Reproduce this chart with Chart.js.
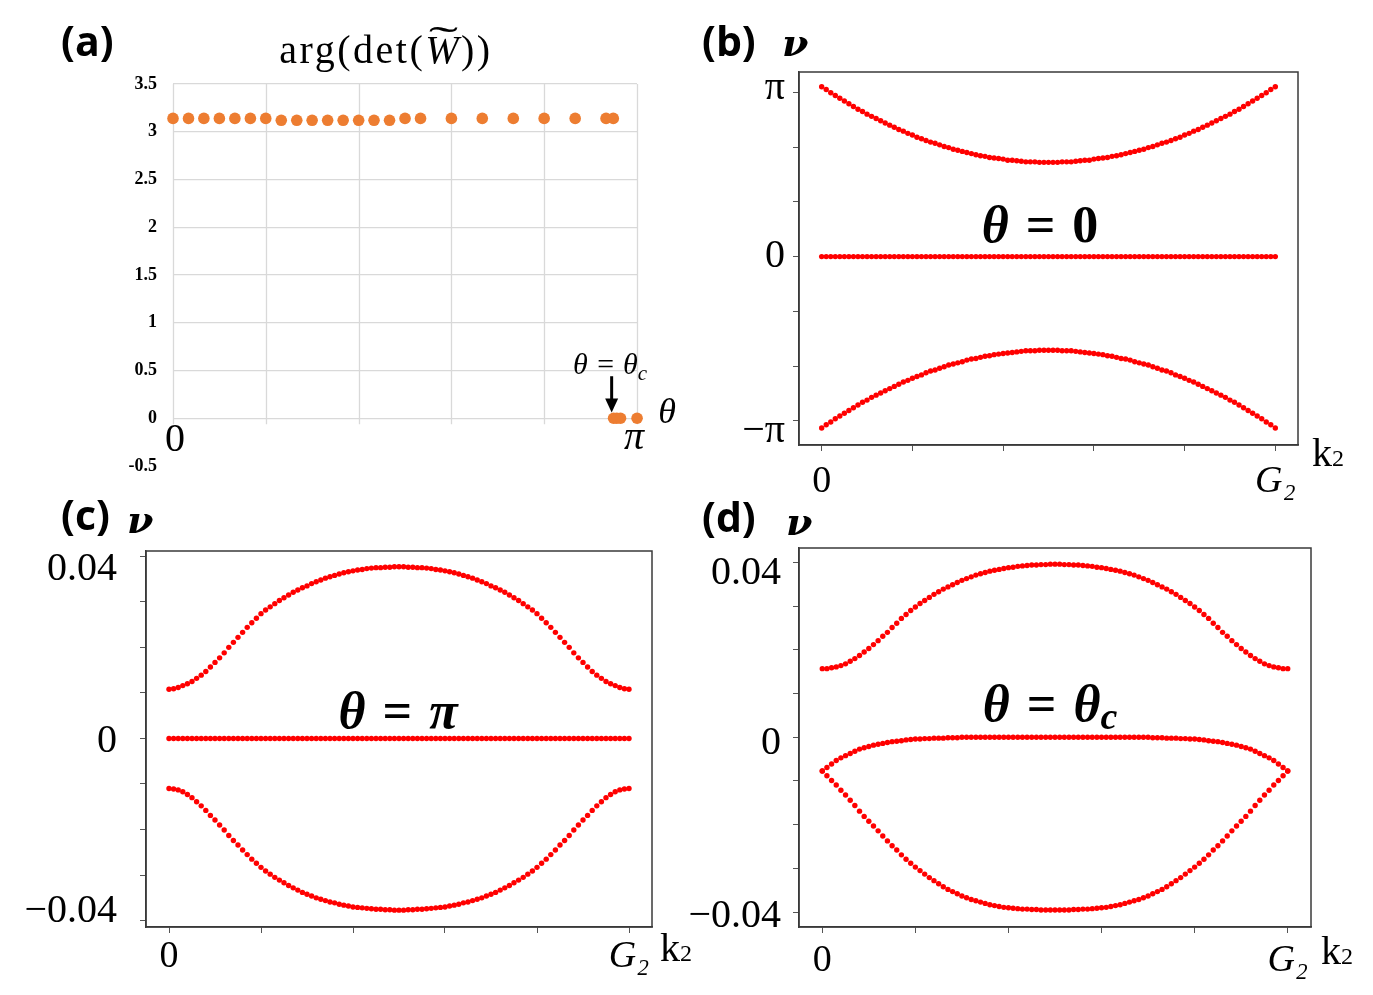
<!DOCTYPE html>
<html><head><meta charset="utf-8">
<script src="https://cdn.jsdelivr.net/npm/chart.js@4.4.1/dist/chart.umd.min.js"></script>
<style>
html,body{margin:0;padding:0;background:#fff;}
#wrap{position:relative;width:1373px;height:995px;overflow:hidden;background:#fff;}
canvas{position:absolute;}
.t{position:absolute;white-space:nowrap;line-height:1;color:#000;}
.lab{font-family:'Open Sans',sans-serif;font-weight:700;font-size:41px;}
.nu{font-family:'DejaVu Serif',serif;font-weight:700;font-style:italic;font-size:38px;}
.ser{font-family:'Liberation Serif',serif;}
.th{font-family:'Liberation Serif',serif;font-weight:700;font-size:52px;word-spacing:4px;transform:translateX(-50%);}
.ctr{transform:translateX(-50%);}
</style></head>
<body><div id="wrap">
<canvas id="cA" width="690" height="490" style="left:0;top:0"></canvas>
<canvas id="cB" width="683" height="440" style="left:690px;top:60px"></canvas>
<canvas id="cC" width="690" height="455" style="left:0;top:540px"></canvas>
<canvas id="cD" width="703" height="458" style="left:670px;top:537px"></canvas>

<div class="t lab" style="left:61px;top:20px">(a)</div>
<div class="t ser ctr" style="left:386px;top:30px;font-size:40px;letter-spacing:2.5px">arg(det(<span style="position:relative;display:inline-block;font-style:italic">W<span style="position:absolute;left:4px;right:-2px;top:-9px;text-align:center;font-style:normal;display:block;transform:scaleX(2.2)">˜</span></span>))</div>
<div class="t ser ctr" style="left:175px;top:418px;font-size:40px">0</div>
<div class="t ser ctr" style="left:634px;top:416px;font-size:40px;font-style:italic">π</div>
<div class="t ser ctr" style="left:667px;top:393px;font-size:36px;font-style:italic">θ</div>
<div class="t ser ctr" style="left:610px;top:349px;font-size:30px;font-style:italic">θ = θ<span style="font-size:21px;position:relative;top:6px">c</span></div>

<div class="t lab" style="left:702px;top:20px">(b)</div>
<div class="t nu" style="left:782px;top:24px">ν</div>
<div class="t th" style="left:1040px;top:199px"><i>θ</i> = 0</div>
<div class="t ser" style="left:1312px;top:433px;font-size:40px">k<span style="font-size:24px">2</span></div>

<div class="t lab" style="left:61px;top:494px">(c)</div>
<div class="t nu" style="left:127px;top:501px">ν</div>
<div class="t th" style="left:398px;top:685px"><i>θ</i> = <i>π</i></div>
<div class="t ser" style="left:660px;top:928px;font-size:40px">k<span style="font-size:24px">2</span></div>

<div class="t lab" style="left:702px;top:496px">(d)</div>
<div class="t nu" style="left:786px;top:503px">ν</div>
<div class="t th" style="left:1050px;top:678px"><i>θ</i> = <i>θ</i><span style="font-size:38px;position:relative;top:8px"><i>c</i></span></div>
<div class="t ser" style="left:1321px;top:931px;font-size:40px">k<span style="font-size:24px">2</span></div>
</div>

<script>
// ---------- Panel (a): arg(det(W~)) vs theta ----------
const THETA_A = [0,0.105,0.209,0.314,0.419,0.524,0.628,0.733,0.838,0.942,1.047,1.152,1.257,1.361,1.466,1.571,1.676,1.885,2.094,2.304,2.513,2.723,2.932,2.981,2.983,3.005,3.030,3.142];
const ARG_A   = [3.14,3.14,3.14,3.14,3.14,3.14,3.14,3.12,3.12,3.12,3.12,3.12,3.12,3.12,3.12,3.14,3.14,3.14,3.14,3.14,3.14,3.14,3.14,3.14,0,0,0,0];
const A_YTICKS = [-0.5,0,0.5,1,1.5,2,2.5,3,3.5];
const A_XGRID = [0,0.6283,1.2566,1.885,2.5133,3.1416];
const THETA_C = 2.97;
const ARROW_Y = [0.44, 0.06];

// ---------- Panels (b)-(d): nu vs k2 (k2 in units of G2) ----------
const K2 = Array.from({length:101},(_,i)=>i/100);
const K_TICKS = [0,0.2,0.4,0.6,0.8,1];

const B_UP = [3.10,3.05,2.99,2.94,2.89,2.84,2.79,2.74,2.69,2.65,2.60,2.56,2.52,2.48,2.44,2.40,2.36,2.32,2.29,2.25,2.22,2.18,2.15,2.12,2.09,2.07,2.04,2.01,1.99,1.96,1.94,1.92,1.90,1.88,1.86,1.84,1.83,1.81,1.80,1.79,1.78,1.76,1.76,1.75,1.74,1.73,1.73,1.73,1.72,1.72,1.72,
  1.72,1.72,1.73,1.73,1.73,1.74,1.75,1.76,1.76,1.78,1.79,1.80,1.81,1.83,1.84,1.86,1.88,1.90,1.92,1.94,1.96,1.99,2.01,2.04,2.07,2.09,2.12,2.15,2.18,2.22,2.25,2.29,2.32,2.36,2.40,2.44,2.48,2.52,2.56,2.60,2.65,2.69,2.74,2.79,2.84,2.89,2.94,2.99,3.05,3.10];
const B_MID = [0,0,0,0,0,0,0,0,0,0,0,0,0,0,0,0,0,0,0,0,0,0,0,0,0,0,0,0,0,0,0,0,0,0,0,0,0,0,0,0,0,0,0,0,0,0,0,0,0,0,0,
  0,0,0,0,0,0,0,0,0,0,0,0,0,0,0,0,0,0,0,0,0,0,0,0,0,0,0,0,0,0,0,0,0,0,0,0,0,0,0,0,0,0,0,0,0,0,0,0,0,0];
const B_LO = [-3.13,-3.07,-3.02,-2.96,-2.91,-2.86,-2.81,-2.76,-2.71,-2.66,-2.62,-2.57,-2.53,-2.49,-2.45,-2.41,-2.37,-2.33,-2.29,-2.26,-2.22,-2.19,-2.16,-2.12,-2.09,-2.07,-2.04,-2.01,-1.98,-1.96,-1.94,-1.92,-1.89,-1.87,-1.86,-1.84,-1.82,-1.81,-1.79,-1.78,-1.77,-1.76,-1.75,-1.74,-1.73,-1.72,-1.72,-1.72,-1.71,-1.71,-1.71,
  -1.71,-1.71,-1.72,-1.72,-1.72,-1.73,-1.74,-1.75,-1.76,-1.77,-1.78,-1.79,-1.81,-1.82,-1.84,-1.86,-1.87,-1.89,-1.92,-1.94,-1.96,-1.98,-2.01,-2.04,-2.07,-2.09,-2.12,-2.16,-2.19,-2.22,-2.26,-2.29,-2.33,-2.37,-2.41,-2.45,-2.49,-2.53,-2.57,-2.62,-2.66,-2.71,-2.76,-2.81,-2.86,-2.91,-2.96,-3.02,-3.07,-3.13];

const C_UP = [.0108,.0109,.0112,.0116,.0120,.0125,.0132,.0139,.0147,.0157,.0167,.0177,.0188,.0200,.0211,.0222,.0233,.0244,.0254,.0264,.0274,.0282,.0289,.0296,.0303,.0309,.0315,.0321,.0326,.0331,.0335,.0340,.0344,.0348,.0352,.0355,.0358,.0361,.0364,.0366,.0368,.0370,.0371,.0373,.0374,.0375,.0375,.0376,.0376,.0377,.0377,
  .0377,.0376,.0376,.0375,.0375,.0374,.0373,.0371,.0370,.0368,.0366,.0364,.0361,.0358,.0355,.0352,.0348,.0344,.0340,.0335,.0331,.0326,.0321,.0315,.0309,.0303,.0296,.0289,.0282,.0274,.0264,.0254,.0244,.0233,.0222,.0211,.0200,.0188,.0177,.0167,.0157,.0147,.0139,.0132,.0125,.0120,.0116,.0112,.0109,.0108];
const C_MID = B_MID;
const C_LO = [-.0110,-.0111,-.0113,-.0117,-.0123,-.0130,-.0139,-.0148,-.0158,-.0169,-.0179,-.0190,-.0201,-.0213,-.0224,-.0234,-.0245,-.0255,-.0265,-.0274,-.0283,-.0291,-.0298,-.0305,-.0311,-.0317,-.0323,-.0328,-.0333,-.0338,-.0342,-.0346,-.0350,-.0353,-.0356,-.0359,-.0361,-.0364,-.0366,-.0368,-.0370,-.0371,-.0372,-.0373,-.0374,-.0375,-.0375,-.0376,-.0376,-.0377,-.0377,
  -.0377,-.0376,-.0376,-.0375,-.0375,-.0374,-.0373,-.0372,-.0371,-.0370,-.0368,-.0366,-.0364,-.0361,-.0359,-.0356,-.0353,-.0350,-.0346,-.0342,-.0338,-.0333,-.0328,-.0323,-.0317,-.0311,-.0305,-.0298,-.0291,-.0283,-.0274,-.0265,-.0255,-.0245,-.0234,-.0224,-.0213,-.0201,-.0190,-.0179,-.0169,-.0158,-.0148,-.0139,-.0130,-.0123,-.0117,-.0113,-.0111,-.0110];

const D_UP = [.0157,.0157,.0159,.0161,.0164,.0168,.0174,.0180,.0187,.0195,.0203,.0212,.0221,.0231,.0240,.0251,.0261,.0272,.0281,.0290,.0298,.0306,.0313,.0320,.0327,.0333,.0339,.0344,.0349,.0354,.0359,.0363,.0367,.0371,.0374,.0377,.0380,.0382,.0384,.0386,.0388,.0389,.0391,.0392,.0393,.0394,.0394,.0395,.0395,.0396,.0396,
  .0396,.0395,.0395,.0394,.0394,.0393,.0392,.0391,.0389,.0388,.0386,.0384,.0382,.0380,.0377,.0374,.0371,.0367,.0363,.0359,.0354,.0349,.0344,.0339,.0333,.0327,.0320,.0313,.0306,.0298,.0290,.0281,.0272,.0261,.0251,.0240,.0231,.0221,.0212,.0203,.0195,.0187,.0180,.0174,.0168,.0164,.0161,.0159,.0157,.0157];
const D_MID = [-.0077,-.0069,-.0061,-.0053,-.0047,-.0042,-.0037,-.0032,-.0027,-.0024,-.0021,-.0018,-.0016,-.0014,-.0012,-.0010,-.0009,-.0008,-.0006,-.0005,-.0004,-.0004,-.0003,-.0003,-.0002,-.0002,-.0002,-.0001,-.0001,-.0001,
  0,0,0,0,0,0,0,0,0,0,0,0,0,0,0,0,0,0,0,0,0,
  0,0,0,0,0,0,0,0,0,0,0,0,0,0,0,0,0,0,0,0,
  -.0001,-.0001,-.0001,-.0002,-.0002,-.0002,-.0003,-.0003,-.0004,-.0004,-.0005,-.0006,-.0008,-.0009,-.0010,-.0012,-.0014,-.0016,-.0018,-.0021,-.0024,-.0027,-.0032,-.0037,-.0042,-.0047,-.0053,-.0061,-.0069,-.0077];
const D_LO = [-.0077,-.0088,-.0099,-.0109,-.0121,-.0132,-.0144,-.0156,-.0169,-.0181,-.0192,-.0203,-.0214,-.0226,-.0237,-.0248,-.0258,-.0269,-.0279,-.0288,-.0297,-.0305,-.0313,-.0321,-.0328,-.0335,-.0342,-.0348,-.0353,-.0358,-.0363,-.0367,-.0371,-.0374,-.0377,-.0380,-.0383,-.0385,-.0387,-.0389,-.0390,-.0391,-.0392,-.0393,-.0393,-.0394,-.0394,-.0395,-.0395,-.0395,-.0395,
  -.0395,-.0395,-.0395,-.0394,-.0394,-.0393,-.0393,-.0392,-.0391,-.0390,-.0389,-.0387,-.0385,-.0383,-.0380,-.0377,-.0374,-.0371,-.0367,-.0363,-.0358,-.0353,-.0348,-.0342,-.0335,-.0328,-.0321,-.0313,-.0305,-.0297,-.0288,-.0279,-.0269,-.0258,-.0248,-.0237,-.0226,-.0214,-.0203,-.0192,-.0181,-.0169,-.0156,-.0144,-.0132,-.0121,-.0109,-.0099,-.0088,-.0077];

const B_YTICKS = [-3,-2,-1,0,1,2,3];
const B_YLABELS = ['−π','','','0','','','π'];
const B_YOFF = [11,0,0,0,0,0,-4];
const CD_YTICKS = [-0.04,-0.03,-0.02,-0.01,0,0.01,0.02,0.03,0.04];
const CD_YLABELS = ['−0.04','','','','0','','','','0.04'];
const C_YOFF = [-9,0,0,0,3,0,0,0,13];
const D_YOFF = [4,0,0,0,6,0,0,0,11];
const X_LABELS = ['0','','','','','G₂'];

// ---------- common ----------
const SERIF = "'Liberation Serif', serif";
Chart.defaults.font.family = SERIF;

const boxPlugin = {id:'box', afterDraw(chart){
  const {ctx, chartArea:a} = chart; ctx.save();
  ctx.strokeStyle = '#3a3a3a'; ctx.lineWidth = 1.5;
  ctx.strokeRect(a.left, a.top, a.right - a.left, a.bottom - a.top);
  ctx.restore();
}};

function noPad(s){ s.paddingTop = 0; s.paddingBottom = 0; s.paddingLeft = 0; s.paddingRight = 0; }
function pts(ys){ return ys.map((y,i)=>({x:K2[i], y:y})); }

function nuChart(id, series, cfg){
  return new Chart(document.getElementById(id), {
    type:'scatter',
    data:{datasets: series.map(s=>({data:pts(s), pointRadius:2.7, pointBackgroundColor:'#ff0000', pointBorderWidth:0, clip:false}))},
    options:{
      animation:false, responsive:false, events:[],
      layout:{padding:{top:cfg.padTop, right:cfg.padRight, left:0, bottom:0}},
      plugins:{legend:{display:false}, tooltip:{enabled:false}},
      scales:{
        x:{type:'linear', min:-0.05, max:1.05,
           afterBuildTicks:s=>{ s.ticks = K_TICKS.map(v=>({value:v})); },
           afterFit:s=>{ s.height = cfg.xH; noPad(s); },
           grid:{drawOnChartArea:false, drawTicks:true, tickLength:6, color:'#555', lineWidth:1},
           border:{display:true, color:'#3a3a3a', width:1.5},
           ticks:{autoSkip:false, maxRotation:0, minRotation:0, padding:cfg.xPad, color:'#000',
             font:c=>({family:SERIF, size:38, style: (c.index===5?'italic':'normal')}),
             callback:(v,i)=>X_LABELS[i]}},
        y:{type:'linear', min:cfg.yMin, max:cfg.yMax,
           afterBuildTicks:s=>{ s.ticks = cfg.yTicks.map(v=>({value:v})); },
           afterFit:s=>{ s.width = cfg.yW; noPad(s); },
           grid:{drawOnChartArea:false, drawTicks:true, tickLength:6, color:'#555', lineWidth:1},
           border:{display:true, color:'#3a3a3a', width:1.5},
           ticks:{autoSkip:false, padding:cfg.yPad, color:'#000',
             font:c=>{ const o = cfg.yOff[c.index]||0; return {family:SERIF, size:40, lineHeight: o ? Math.abs(o)*2/40 : 1.2}; },
             callback:(v,i)=>{ const t = cfg.yLabels[i]; if(!t) return ''; const o = cfg.yOff[i]||0; return o>0 ? ['',t] : (o<0 ? [t,''] : t); }}}
      }
    },
    plugins:[boxPlugin]
  });
}

// ---------- Panel (a) ----------
const gridA = {id:'gridA',
  beforeDatasetsDraw(chart){
    const {ctx, scales:{x, y}} = chart; ctx.save();
    ctx.strokeStyle = '#d9d9d9'; ctx.lineWidth = 1.3;
    const yTop = y.getPixelForValue(3.5), yBot = y.getPixelForValue(0) + 6;
    A_XGRID.forEach(v=>{ const px = Math.round(x.getPixelForValue(v)) + 0.5; ctx.beginPath(); ctx.moveTo(px, yTop); ctx.lineTo(px, yBot); ctx.stroke(); });
    ctx.restore();
  },
  afterDatasetsDraw(chart){
    const {ctx, scales:{x, y}} = chart; ctx.save();
    const px = x.getPixelForValue(THETA_C), y1 = y.getPixelForValue(ARROW_Y[0]), y2 = y.getPixelForValue(ARROW_Y[1]);
    ctx.strokeStyle = '#000'; ctx.fillStyle = '#000'; ctx.lineWidth = 3;
    ctx.beginPath(); ctx.moveTo(px, y1); ctx.lineTo(px, y2 - 12); ctx.stroke();
    ctx.beginPath(); ctx.moveTo(px - 6.5, y2 - 14); ctx.lineTo(px + 6.5, y2 - 14); ctx.lineTo(px, y2); ctx.closePath(); ctx.fill();
    ctx.restore();
  }
};

new Chart(document.getElementById('cA'), {
  type:'scatter',
  data:{datasets:[{data:THETA_A.map((t,i)=>({x:t, y:ARG_A[i]})), pointRadius:5.8, pointBackgroundColor:'#ED7D31', pointBorderWidth:0, clip:false}]},
  options:{
    animation:false, responsive:false, events:[],
    layout:{padding:{top:84, right:53, bottom:24, left:0}},
    plugins:{legend:{display:false}, tooltip:{enabled:false}},
    scales:{
      x:{type:'linear', min:0, max:Math.PI, display:false},
      y:{type:'linear', min:-0.5, max:3.5,
         afterBuildTicks:s=>{ s.ticks = A_YTICKS.map(v=>({value:v})); },
         afterFit:s=>{ s.width = 173; noPad(s); },
         grid:{drawTicks:false, lineWidth:1.3, color:c=> (c.tick && c.tick.value === -0.5) ? 'rgba(0,0,0,0)' : '#d9d9d9'},
         border:{display:false},
         ticks:{padding:16, color:'#000', font:{family:SERIF, weight:'bold', size:18}, callback:v=>String(v)}}
    }
  },
  plugins:[gridA]
});

nuChart('cB', [B_UP, B_MID, B_LO], {padTop:12, padRight:75, xH:55, yW:109, xPad:8, yPad:8,
  yMin:-3.44, yMax:3.37, yTicks:B_YTICKS, yLabels:B_YLABELS, yOff:B_YOFF});
nuChart('cC', [C_UP, C_MID, C_LO], {padTop:11, padRight:38, xH:68, yW:146, xPad:1, yPad:23,
  yMin:-0.0414, yMax:0.04116, yTicks:CD_YTICKS, yLabels:CD_YLABELS, yOff:C_YOFF});
nuChart('cD', [D_UP, D_MID, D_LO], {padTop:11, padRight:62, xH:68, yW:129, xPad:5, yPad:12,
  yMin:-0.0434, yMax:0.0433, yTicks:CD_YTICKS, yLabels:CD_YLABELS, yOff:D_YOFF});
</script>
</body></html>
